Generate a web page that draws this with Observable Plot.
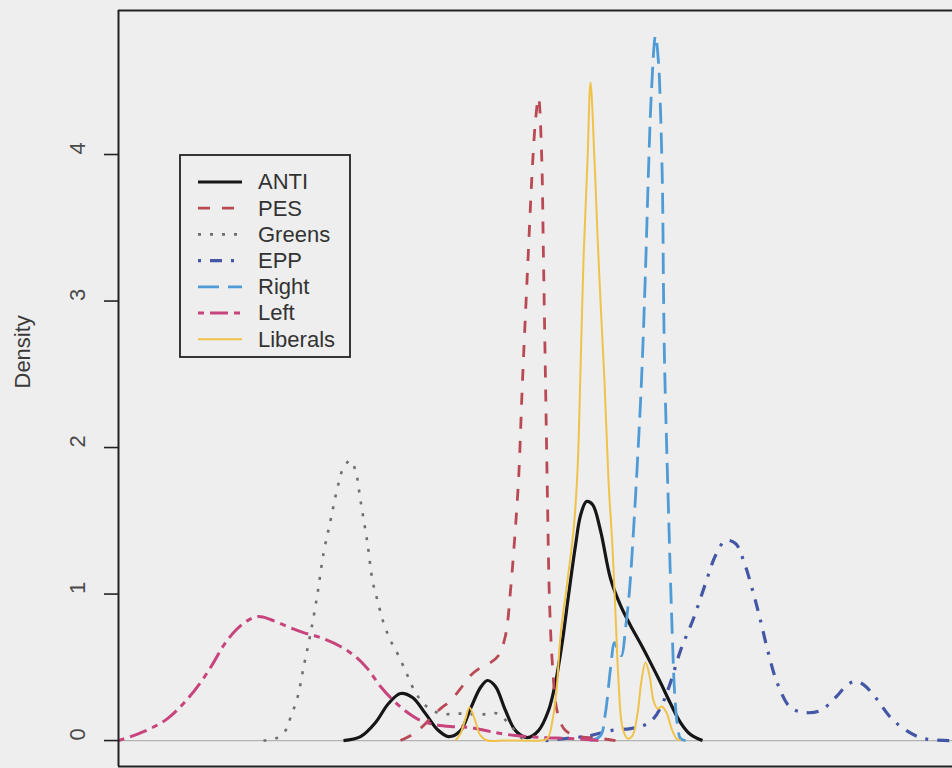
<!DOCTYPE html>
<html>
<head>
<meta charset="utf-8">
<script src="https://cdn.jsdelivr.net/npm/d3@7"></script>
<script src="https://cdn.jsdelivr.net/npm/@observablehq/plot@0.6"></script>
<style>
  html, body { margin: 0; padding: 0; background: #eeeeee; overflow: hidden; }
  #chart { position: relative; width: 952px; height: 768px; font-family: "Liberation Sans", Arial, sans-serif; }
  #legend { position: absolute; left: 179px; top: 154px; }
</style>
</head>
<body>
<div id="chart"></div>
<script>
// Kernel density estimates of party-group positions, one array of [position, density] per group.
const anti = [[-0.48,0],[-0.4375,0.027],[-0.40,0.123],[-0.3675,0.253],[-0.3375,0.321],[-0.3075,0.294],[-0.275,0.184],[-0.245,0.075],[-0.2175,0.027],[-0.1875,0.068],[-0.1625,0.218],[-0.1375,0.362],[-0.12,0.41],[-0.10,0.369],[-0.075,0.205],[-0.05,0.068],[-0.02,0.02],[0.0075,0.068],[0.0325,0.205],[0.05,0.396],[0.0675,0.683],[0.0825,0.99],[0.10,1.331],[0.1125,1.536],[0.1275,1.631],[0.1425,1.611],[0.1625,1.433],[0.1875,1.106],[0.2125,0.922],[0.2375,0.785],[0.2625,0.662],[0.2875,0.532],[0.3125,0.396],[0.3375,0.253],[0.3625,0.123],[0.3875,0.041],[0.4175,0]];

const pes = [[-0.3375,0],[-0.30,0.055],[-0.2625,0.15],[-0.2375,0.218],[-0.2125,0.273],[-0.1875,0.355],[-0.1625,0.444],[-0.1375,0.498],[-0.1125,0.532],[-0.0925,0.58],[-0.075,0.717],[-0.0625,1.024],[-0.0525,1.365],[-0.0425,1.775],[-0.0325,2.457],[-0.02,3.208],[-0.0075,3.925],[0,4.232],[0.0075,4.389],[0.015,4.027],[0.02,3.276],[0.025,2.457],[0.03,1.638],[0.035,0.956],[0.0425,0.512],[0.055,0.191],[0.075,0.068],[0.1125,0.027],[0.1625,0.014],[0.20,0]];

const greens = [[-0.68,0],[-0.65,0.014],[-0.625,0.068],[-0.6125,0.157],[-0.595,0.294],[-0.58,0.498],[-0.5625,0.73],[-0.545,1.003],[-0.53,1.276],[-0.5125,1.502],[-0.495,1.727],[-0.48,1.863],[-0.4625,1.911],[-0.45,1.843],[-0.4375,1.638],[-0.42,1.345],[-0.4075,1.092],[-0.395,0.956],[-0.38,0.805],[-0.3625,0.683],[-0.3425,0.58],[-0.32,0.444],[-0.30,0.328],[-0.275,0.239],[-0.2375,0.184],[-0.1875,0.184],[-0.1375,0.177],[-0.095,0.184],[-0.0625,0.102],[-0.0325,0.014],[-0.0125,0]];

const epp = [[0.025,0],[0.075,0.014],[0.1375,0.034],[0.1875,0.068],[0.2375,0.082],[0.27,0.102],[0.295,0.15],[0.3175,0.253],[0.3375,0.396],[0.3625,0.614],[0.395,0.833],[0.425,1.072],[0.45,1.263],[0.475,1.365],[0.50,1.345],[0.52,1.229],[0.545,1.003],[0.5625,0.819],[0.5825,0.594],[0.605,0.389],[0.6375,0.225],[0.675,0.191],[0.7125,0.205],[0.75,0.294],[0.78,0.382],[0.80,0.403],[0.82,0.382],[0.85,0.294],[0.895,0.137],[0.9625,0.02],[1.0425,0]];

const right = [[0.1375,0],[0.1625,0.034],[0.175,0.191],[0.1875,0.491],[0.1975,0.669],[0.2075,0.601],[0.215,0.58],[0.225,0.765],[0.235,1.024],[0.245,1.433],[0.255,1.911],[0.265,2.457],[0.275,3.208],[0.2825,3.891],[0.29,4.437],[0.30,4.812],[0.3075,4.628],[0.3125,4.30],[0.3175,3.754],[0.32,3.072],[0.3225,2.594],[0.3275,2.048],[0.3325,1.57],[0.3375,1.092],[0.3425,0.683],[0.3475,0.341],[0.355,0.102],[0.3625,0.014],[0.375,0]];

const left = [[-1.0425,0],[-1.005,0.034],[-0.9625,0.082],[-0.92,0.15],[-0.88,0.253],[-0.8375,0.396],[-0.805,0.532],[-0.78,0.648],[-0.75,0.751],[-0.72,0.819],[-0.6925,0.846],[-0.6625,0.826],[-0.62,0.778],[-0.58,0.737],[-0.5375,0.703],[-0.4875,0.642],[-0.45,0.573],[-0.42,0.491],[-0.3875,0.369],[-0.355,0.273],[-0.32,0.191],[-0.2875,0.137],[-0.25,0.109],[-0.2125,0.096],[-0.1625,0.089],[-0.1125,0.061],[-0.05,0.034],[0.025,0.02],[0.0875,0.014],[0.1625,0]];

const liberals = [[-0.20,0],[-0.1875,0.048],[-0.175,0.15],[-0.165,0.225],[-0.1525,0.15],[-0.1375,0.034],[-0.12,0],[-0.08,0],[-0.04,0],[0.0125,0],[0.03,0.014],[0.0425,0.137],[0.0525,0.341],[0.0625,0.717],[0.08,1.092],[0.095,1.433],[0.105,1.843],[0.1125,2.526],[0.12,3.276],[0.13,3.959],[0.1375,4.491],[0.1475,3.96],[0.155,3.45],[0.1625,3.0],[0.1725,2.45],[0.1825,1.775],[0.1925,1.317],[0.20,0.867],[0.2075,0.41],[0.2175,0.089],[0.23,0.014],[0.2425,0.034],[0.255,0.184],[0.265,0.41],[0.275,0.532],[0.285,0.444],[0.295,0.273],[0.305,0.218],[0.315,0.232],[0.3275,0.191],[0.34,0.082],[0.3525,0.014],[0.3625,0]];

const seriesNames = ["ANTI", "PES", "Greens", "EPP", "Right", "Left", "Liberals"];
const seriesData = [anti, pes, greens, epp, right, left, liberals];
const yTicks = [0, 1, 2, 3, 4];
const yLabel = "Density";

// Line styles: R's lty 1..6 and a per-group colour
const seriesColors = ["#161616", "#b94a55", "#6f6f6f", "#4456a6", "#4f9bd6", "#c7457c", "#f0c24a"];
const seriesDash = [null, "12,12", "3,9", "3,9,12,9", "21,9", "6,6,18,6", null];
const seriesWidth = [3.2, 2.8, 2.6, 3.2, 2.8, 3, 2];

const xDomain = [-1.0425, 1.0425];
const yDomain = [-0.177, 4.983];
const ink = "#222";

const lineMarks = seriesData.map((pts, i) => Plot.line(pts, {
  x: d => d[0],
  y: d => d[1],
  stroke: seriesColors[i],
  strokeWidth: seriesWidth[i],
  strokeDasharray: seriesDash[i] ?? undefined,
  strokeLinecap: "butt",
  curve: "catmull-rom"
}));

const chart = Plot.plot({
  width: 952,
  height: 768,
  marginLeft: 118,
  marginRight: 0,
  marginTop: 10,
  marginBottom: 2,
  style: { background: "transparent", fontFamily: "'Liberation Sans', Arial, sans-serif", overflow: "visible" },
  x: { domain: xDomain, axis: null },
  y: { domain: yDomain, axis: null },
  marks: [
    Plot.ruleY([0], { stroke: "#b3b3b3", strokeWidth: 1.2 }),
    ...lineMarks,
    // box on three sides
    Plot.ruleX([xDomain[0]], { stroke: ink, strokeWidth: 2 }),
    Plot.ruleY([yDomain[0], yDomain[1]], { stroke: ink, strokeWidth: 2 }),
    Plot.axisY(yTicks, { tickSize: 14, tickFormat: () => "", stroke: ink, strokeWidth: 1.6, label: null }),
    Plot.text(yTicks, { frameAnchor: "left", y: d => d, text: d => String(d), rotate: -90, dx: -41, fontSize: 22, fill: "#4a4a4a" }),
    Plot.text([yLabel], { frameAnchor: "left", text: d => d, rotate: -90, dx: -96, fontSize: 22, fill: "#3a3a3a" })
  ]
});
document.getElementById("chart").appendChild(chart);

// Legend box inside the plot area
const lg = d3.select("#chart").append("svg")
  .attr("id", "legend")
  .attr("width", 173)
  .attr("height", 205)
  .style("font-family", "'Liberation Sans', Arial, sans-serif");
lg.append("rect")
  .attr("x", 1).attr("y", 1).attr("width", 170).attr("height", 202)
  .attr("fill", "none").attr("stroke", ink).attr("stroke-width", 1.8);
const rows = lg.selectAll("g.row").data(seriesNames).join("g")
  .attr("class", "row")
  .attr("transform", (d, i) => `translate(0,${28 + 26.2 * i})`);
rows.append("line")
  .attr("x1", 19).attr("x2", 63).attr("y1", 0).attr("y2", 0)
  .attr("stroke", (d, i) => seriesColors[i])
  .attr("stroke-width", (d, i) => seriesWidth[i])
  .attr("stroke-dasharray", (d, i) => seriesDash[i])
  .attr("stroke-linecap", "butt");
rows.append("text")
  .attr("x", 79).attr("y", 0).attr("dy", "0.34em")
  .attr("font-size", 22).attr("fill", "#333")
  .text(d => d);
</script>
</body>
</html>
